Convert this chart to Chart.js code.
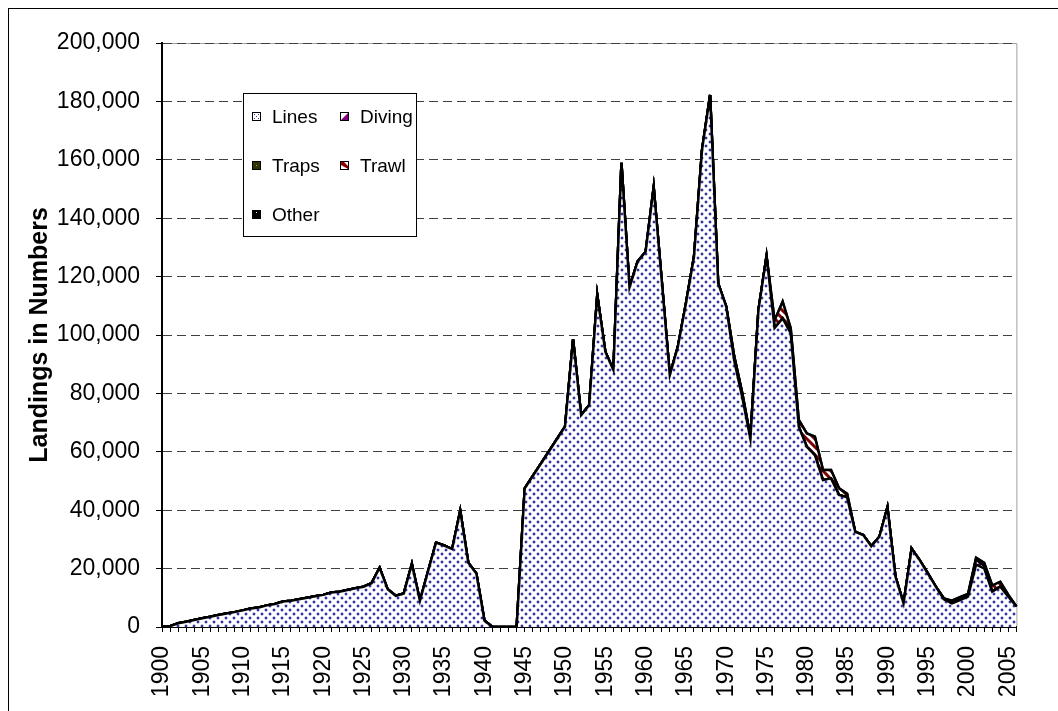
<!DOCTYPE html>
<html>
<head>
<meta charset="utf-8">
<script src="https://cdn.jsdelivr.net/npm/chart.js@4/dist/chart.umd.min.js"></script>
<style>
  html, body { margin: 0; padding: 0; background: #fff; }
  #wrap { width: 1058px; height: 711px; }
</style>
</head>
<body>
<div id="wrap"><canvas id="chart" width="1058" height="711"></canvas></div>
<script>
const years = [
  1900, 1901, 1902, 1903, 1904, 1905, 1906, 1907, 1908, 1909,
  1910, 1911, 1912, 1913, 1914, 1915, 1916, 1917, 1918, 1919,
  1920, 1921, 1922, 1923, 1924, 1925, 1926, 1927, 1928, 1929,
  1930, 1931, 1932, 1933, 1934, 1935, 1936, 1937, 1938, 1939,
  1940, 1941, 1942, 1943, 1944, 1945, 1946, 1947, 1948, 1949,
  1950, 1951, 1952, 1953, 1954, 1955, 1956, 1957, 1958, 1959,
  1960, 1961, 1962, 1963, 1964, 1965, 1966, 1967, 1968, 1969,
  1970, 1971, 1972, 1973, 1974, 1975, 1976, 1977, 1978, 1979,
  1980, 1981, 1982, 1983, 1984, 1985, 1986, 1987, 1988, 1989,
  1990, 1991, 1992, 1993, 1994, 1995, 1996, 1997, 1998, 1999,
  2000, 2001, 2002, 2003, 2004, 2005, 2006
];

// years that get a label on the x axis
const labelYears = [1900, 1905, 1910, 1915, 1920, 1925, 1930, 1935, 1940, 1945, 1950,
  1955, 1960, 1965, 1970, 1975, 1980, 1985, 1990, 1995, 2000, 2005];

const lines = [
  0, 300, 1300, 1800, 2400, 3000, 3500, 4100, 4600, 5100,
  5700, 6300, 6700, 7400, 7900, 8700, 9000, 9500, 10000, 10500,
  11000, 11800, 12100, 12700, 13300, 13800, 15000, 20300, 12900, 10700,
  11500, 21600, 9000, 19000, 28900, 27900, 26700, 39800, 22000, 18300,
  2200, 0, 0, 0, 0, 47500, 51700, 55900, 60100, 64400,
  68600, 98500, 72600, 76000, 113700, 94300, 88000, 159000, 116300, 125100,
  128500, 150600, 118500, 86300, 96000, 110800, 126800, 163400, 182200, 117700,
  109700, 91100, 78500, 64400, 108600, 127000, 102400, 105700, 100600, 68600,
  61700, 58900, 50300, 50900, 45200, 44400, 32600, 31500, 27700, 30900,
  41000, 17200, 8100, 26900, 22900, 18400, 13800, 9500, 8100, 9200,
  10400, 21400, 20100, 12100, 13800, 10400, 7000
];

const diving = [
  0, 0, 0, 0, 0, 0, 0, 0, 0, 0,
  0, 0, 0, 0, 0, 0, 0, 0, 0, 0,
  0, 0, 0, 0, 0, 0, 0, 0, 0, 0,
  0, 0, 0, 0, 0, 0, 0, 0, 0, 0,
  0, 0, 0, 0, 0, 0, 0, 0, 0, 0,
  0, 0, 0, 0, 0, 0, 0, 0, 0, 0,
  0, 0, 0, 0, 0, 0, 0, 0, 0, 0,
  0, 0, 0, 0, 0, 0, 0, 0, 0, 0,
  0, 0, 0, 0, 0, 0, 0, 0, 0, 0,
  0, 0, 0, 0, 0, 0, 0, 300, 400, 500,
  400, 1600, 900, 200, 0, 0, 0
];

const traps = [
  0, 0, 0, 0, 0, 0, 0, 0, 0, 0,
  0, 0, 0, 0, 0, 0, 0, 0, 0, 0,
  0, 0, 0, 0, 0, 0, 0, 0, 0, 0,
  0, 0, 0, 0, 0, 0, 0, 0, 0, 0,
  0, 0, 0, 0, 0, 0, 0, 0, 0, 0,
  0, 0, 0, 0, 0, 0, 0, 0, 0, 0,
  0, 0, 0, 0, 0, 0, 0, 0, 0, 0,
  0, 1500, 1500, 800, 0, 0, 0, 0, 600, 0,
  0, 0, 0, 0, 0, 0, 0, 0, 0, 0,
  0, 0, 0, 0, 0, 0, 0, 0, 0, 0,
  0, 0, 0, 0, 0, 0, 0
];

const trawl = [
  0, 0, 0, 0, 0, 0, 0, 0, 0, 0,
  0, 0, 0, 0, 0, 0, 0, 0, 0, 0,
  0, 0, 0, 0, 0, 0, 0, 0, 0, 0,
  0, 0, 0, 0, 0, 0, 0, 0, 0, 0,
  0, 0, 0, 0, 0, 0, 0, 0, 0, 0,
  0, 0, 0, 0, 0, 0, 0, 0, 0, 0,
  0, 0, 0, 0, 0, 0, 0, 0, 0, 0,
  0, 0, 0, 0, 0, 0, 2600, 5700, 1100, 2300,
  4600, 6300, 3500, 2900, 2300, 1200, 0, 0, 0, 0,
  0, 0, 0, 0, 0, 0, 0, 0, 500, 500,
  500, 700, 1000, 1900, 1700, 600, 0
];

const other = [
  0, 0, 0, 0, 0, 0, 0, 0, 0, 0,
  0, 0, 0, 0, 0, 0, 0, 0, 0, 0,
  0, 0, 0, 0, 0, 0, 0, 0, 0, 0,
  0, 0, 0, 0, 0, 0, 0, 0, 0, 0,
  0, 0, 0, 0, 0, 0, 0, 0, 0, 0,
  0, 0, 0, 0, 0, 0, 0, 0, 0, 0,
  0, 0, 0, 0, 0, 0, 0, 0, 0, 0,
  0, 0, 0, 0, 0, 0, 0, 0, 0, 0,
  0, 0, 0, 0, 0, 0, 0, 0, 0, 0,
  0, 0, 0, 0, 0, 0, 0, 0, 0, 0,
  0, 0, 0, 0, 0, 0, 0
];

const FONT = "'Liberation Sans', Arial, sans-serif";

// excel-like fill patterns
function makePattern(size, draw) {
  const c = document.createElement('canvas');
  c.width = size; c.height = size;
  const g = c.getContext('2d');
  draw(g, size);
  return g.createPattern(c, 'repeat');
}

const dotFill = makePattern(8, (g) => {
  g.fillStyle = '#fff'; g.fillRect(0, 0, 8, 8);
  // soft halo then a dark core, like the scanned excel dots
  g.fillStyle = '#c4c4ea';
  g.fillRect(0, 1, 4, 2); g.fillRect(1, 0, 2, 4);
  g.fillRect(4, 5, 4, 2); g.fillRect(5, 4, 2, 4);
  g.fillStyle = '#33339a';
  g.fillRect(1, 1, 2, 2);
  g.fillRect(5, 5, 2, 2);
});

const divingFill = makePattern(8, (g) => {
  g.fillStyle = '#fff'; g.fillRect(0, 0, 8, 8);
  g.strokeStyle = '#800080'; g.lineWidth = 3;
  g.beginPath();
  g.moveTo(0, 8); g.lineTo(8, 0);
  g.moveTo(-4, 4); g.lineTo(4, -4);
  g.moveTo(4, 12); g.lineTo(12, 4);
  g.stroke();
});
const trawlFill = makePattern(8, (g) => {
  g.fillStyle = '#fff'; g.fillRect(0, 0, 8, 8);
  g.strokeStyle = '#800000'; g.lineWidth = 3;
  g.beginPath();
  g.moveTo(0, 0); g.lineTo(8, 8);
  g.moveTo(-4, 4); g.lineTo(4, 12);
  g.moveTo(4, -4); g.lineTo(12, 4);
  g.stroke();
});
const trapsFill = makePattern(4, (g) => {
  g.fillStyle = '#333300'; g.fillRect(0, 0, 4, 4);
  g.fillStyle = '#808040'; g.fillRect(1, 1, 1, 1);
});

function area(label, data, fill, bg) {
  return {
    label: label,
    data: data,
    fill: fill,
    backgroundColor: bg,
    borderColor: '#000',
    borderWidth: 2.5,
    pointRadius: 0,
    tension: 0,
  };
}

const plotFrame = {
  id: 'plotFrame',
  beforeDraw(chart) {
    const {ctx, chartArea: a} = chart;
    ctx.save();
    ctx.strokeStyle = '#a0a0a0';
    ctx.lineWidth = 1;
    ctx.beginPath();
    ctx.moveTo(a.left, a.top + 0.5);
    ctx.lineTo(a.right + 0.5, a.top + 0.5);
    ctx.lineTo(a.right + 0.5, a.bottom);
    ctx.stroke();
    ctx.restore();
  },
  afterDraw(chart) {
    const ctx = chart.ctx;
    ctx.save();
    // outer chart border
    ctx.strokeStyle = '#000';
    ctx.lineWidth = 1;
    ctx.strokeRect(8.5, 8.5, 1060, 720);

    // legend box
    ctx.fillStyle = '#fff';
    ctx.fillRect(243, 93, 174, 144);
    ctx.strokeRect(243.5, 93.5, 173, 143);

    const items = [
      {text: 'Lines', x: 253, y: 123, icon: 'lines'},
      {text: 'Diving', x: 341, y: 123, icon: 'diving'},
      {text: 'Traps', x: 253, y: 172, icon: 'traps'},
      {text: 'Trawl', x: 341, y: 172, icon: 'trawl'},
      {text: 'Other', x: 253, y: 221, icon: 'other'},
    ];
    ctx.font = '19px ' + FONT;
    ctx.textBaseline = 'alphabetic';
    ctx.textAlign = 'left';
    items.forEach((it) => {
      const bx = it.x, by = it.y - 10, s = 7;
      ctx.fillStyle = '#fff';
      ctx.fillRect(bx, by, s, s);
      if (it.icon === 'lines') {
        ctx.fillStyle = '#3a3aa0';
        ctx.fillRect(bx + 1, by + 1, 1, 1);
        ctx.fillRect(bx + 5, by + 1, 1, 1);
        ctx.fillRect(bx + 3, by + 3, 1, 1);
        ctx.fillRect(bx + 1, by + 5, 1, 1);
        ctx.fillRect(bx + 5, by + 5, 1, 1);
      } else if (it.icon === 'diving') {
        ctx.fillStyle = '#800080';
        ctx.beginPath();
        ctx.moveTo(bx + s, by); ctx.lineTo(bx + s, by + s); ctx.lineTo(bx, by + s);
        ctx.fill();
      } else if (it.icon === 'traps') {
        ctx.fillStyle = '#333300';
        ctx.fillRect(bx, by, s, s);
        ctx.fillStyle = '#a0a060';
        ctx.fillRect(bx + 3, by + 3, 1, 1);
      } else if (it.icon === 'trawl') {
        ctx.fillStyle = '#900000';
        ctx.beginPath();
        ctx.moveTo(bx, by); ctx.lineTo(bx + 3, by);
        ctx.lineTo(bx + s, by + s - 3); ctx.lineTo(bx + s, by + s);
        ctx.lineTo(bx, by + 3);
        ctx.fill();
      } else {
        ctx.fillStyle = '#000';
        ctx.fillRect(bx, by, s, s);
        ctx.fillStyle = '#fff';
        ctx.fillRect(bx + 3, by + 1, 1, 1);
      }
      ctx.strokeStyle = '#000';
      ctx.strokeRect(bx - 0.5, by - 0.5, s + 1, s + 1);
      ctx.fillStyle = '#000';
      ctx.fillText(it.text, bx + 19, it.y);
    });
    ctx.restore();
  }
};

new Chart(document.getElementById('chart'), {
  type: 'line',
  data: {
    labels: years,
    datasets: [
      area('Lines', lines, 'origin', dotFill),
      area('Diving', diving, '-1', divingFill),
      area('Traps', traps, '-1', trapsFill),
      area('Trawl', trawl, '-1', trawlFill),
      area('Other', other, '-1', '#000'),
    ],
  },
  plugins: [plotFrame],
  options: {
    responsive: false,
    animation: false,
    events: [],
    layout: {padding: {left: 0, top: 43, right: 8, bottom: 0}},
    plugins: {
      legend: {display: false},
      tooltip: {enabled: false},
    },
    scales: {
      x: {
        offset: false,
        grid: {display: true, drawOnChartArea: false, drawTicks: true, tickLength: 5, tickColor: '#000', tickWidth: 1},
        border: {display: true, color: '#000', width: 2},
        ticks: {
          autoSkip: false,
          minRotation: 90,
          maxRotation: 90,
          padding: 14,
          color: '#000',
          font: {family: FONT, size: 23},
          callback: function(value, index) {
            return labelYears.includes(years[index]) ? String(years[index]) : '';
          },
        },
        afterFit: (scale) => { scale.height = 84; },
      },
      y: {
        stacked: true,
        min: 0,
        max: 200000,
        grid: {color: '#404040', lineWidth: 1, drawTicks: true, tickLength: 6, tickColor: '#000', tickWidth: 1, tickBorderDash: []},
        border: {display: true, color: '#000', width: 2, dash: [9, 5]},
        ticks: {
          stepSize: 20000,
          padding: 16,
          color: '#000',
          font: {family: FONT, size: 23},
          callback: (v) => v.toLocaleString('en-US'),
        },
        title: {
          display: true,
          text: 'Landings in Numbers',
          color: '#000',
          font: {family: FONT, size: 25, weight: 'bold'},
          padding: {top: 25, bottom: 0},
        },
        afterFit: (scale) => { scale.width = 162; },
      },
    },
  },
});
</script>
</body>
</html>
